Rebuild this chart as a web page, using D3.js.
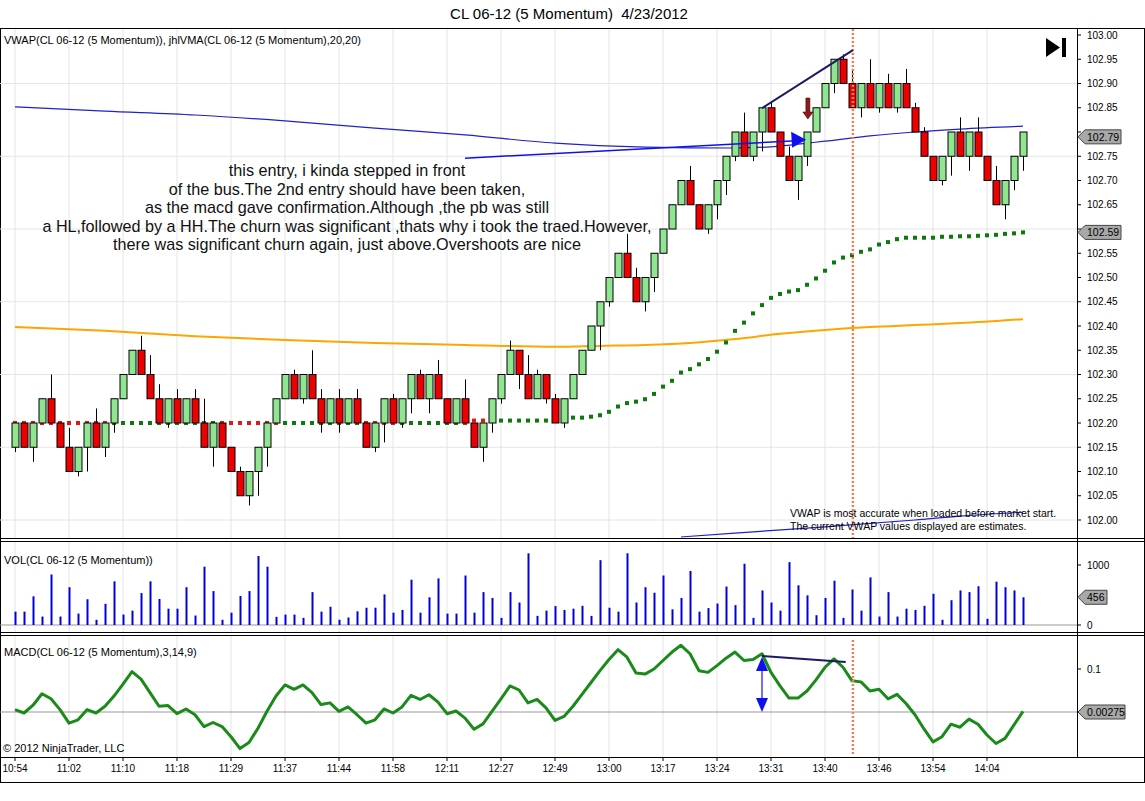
<!DOCTYPE html>
<html><head><meta charset="utf-8">
<script src="https://cdn.jsdelivr.net/npm/d3@7/dist/d3.min.js"></script>
<style>body{margin:0;background:#fff}svg{display:block;font-family:"Liberation Sans",Arial,sans-serif}</style>
</head><body><svg id="c" width="1145" height="801"></svg>
<script>
// ---------- DATA ----------
const timeLabels=["10:54","11:02","11:10","11:18","11:29","11:37","11:44","11:58","12:11","12:27","12:49","13:00","13:17","13:24","13:31","13:40","13:46","13:54","14:04"];
// momentum bar closes (102.xx) and direction (1 up, -1 down)
const closes=[.20,.15,.20,.25,.20,.15,.10,.15,.20,.15,.20,.25,.30,.35,.30,.25,.20,.25,.20,.25,.20,.15,.20,.15,.10,.05,.10,.15,.20,.25,.30,.25,.30,.25,.20,.25,.20,.25,.20,.15,.20,.25,.20,.25,.30,.25,.30,.25,.20,.25,.20,.15,.20,.25,.30,.35,.30,.25,.30,.25,.20,.25,.30,.35,.40,.45,.50,.55,.50,.45,.50,.55,.60,.65,.70,.65,.60,.65,.70,.75,.80,.75,.80,.85,.80,.75,.70,.75,.80,.85,.90,.95,.90,.85,.90,.85,.90,.85,.90,.85,.80,.75,.70,.75,.80,.75,.80,.75,.70,.65,.70,.75,.80];
const dirs=[1,-1,1,1,-1,-1,-1,1,1,-1,1,1,1,1,-1,-1,-1,1,-1,1,-1,-1,1,-1,-1,-1,1,1,1,1,1,-1,1,-1,-1,1,-1,1,-1,-1,1,1,-1,1,1,-1,1,-1,-1,1,-1,-1,1,1,1,1,-1,-1,1,-1,-1,1,1,1,1,1,1,1,-1,-1,1,1,1,1,1,-1,-1,1,1,1,1,-1,1,1,-1,-1,-1,1,1,1,1,1,-1,-1,1,-1,1,-1,1,-1,-1,-1,-1,1,1,-1,1,-1,-1,-1,1,1,1];
// wick extensions in ticks (0.01)
const upWick={4:5,6:4,9:3,14:3,15:4,16:3,18:2,20:2,21:5,25:1,31:1,33:5,34:2,36:2,38:2,42:1,45:1,47:3,50:4,55:2,57:4,58:1,60:1,68:4,69:2,75:3,81:4,84:1,86:2,92:1,93:3,95:5,97:2,99:3,100:1,101:1,105:3,107:3,109:3};
const dnWick={0:1,2:3,7:1,8:5,10:2,11:2,17:1,22:4,26:2,27:5,28:4,32:1,34:2,36:2,40:1,41:4,43:1,44:3,46:3,52:3,53:2,54:1,56:3,59:1,61:1,65:5,66:1,70:2,71:3,77:1,78:3,79:3,80:1,82:1,83:4,87:4,88:2,91:2,94:2,96:1,98:1,103:1,104:4,106:3,110:3,111:2,112:3};
const vmaLeft=[102.200,102.205]; // idx 0-50, 51-61
const vmaRight=[102.211,102.211,102.213,102.216,102.223,102.234,102.241,102.244,102.249,102.260,102.275,102.287,102.304,102.311,102.321,102.332,102.347,102.366,102.390,102.407,102.426,102.443,102.458,102.466,102.471,102.474,102.485,102.498,102.514,102.531,102.541,102.546,102.553,102.558,102.568,102.573,102.579,102.582,102.582,102.582,102.582,102.584,102.584,102.585,102.585,102.586,102.587,102.588,102.590,102.591,102.593];
const vmaRed=[[0,10],[23,29],[39,42],[50,53]];
const orangeLine=[[0,102.398],[10,102.390],[20,102.379],[30,102.371],[40,102.365],[50,102.361],[60,102.357],[65,102.359],[70,102.361],[75,102.365],[80,102.373],[85,102.384],[90,102.392],[95,102.398],[100,102.402],[105,102.406],[112,102.414]];
const vwapLine=[[0,102.852],[10,102.843],[20,102.835],[30,102.823],[40,102.808],[50,102.794],[60,102.777],[70,102.769],[80,102.767],[85,102.771],[88,102.777],[90,102.781],[95,102.792],[100,102.800],[105,102.806],[112,102.812]];
const vwapLow=[[74,101.965],[80,101.973],[90,101.986],[100,102.000],[105,102.008],[112,102.016]];
const volume=[223,223,478,141,842,141,630,190,429,87,353,728,174,239,532,728,434,272,272,630,158,972,565,87,206,483,565,1151,972,136,174,174,119,548,223,304,87,125,228,288,288,510,206,250,755,206,462,777,190,190,825,206,548,451,119,548,375,1195,152,239,315,250,272,320,152,1081,288,223,1195,375,630,538,825,261,451,901,223,282,358,641,331,1021,119,576,375,239,1048,662,494,163,451,738,119,592,239,793,141,548,141,272,250,320,520,87,413,576,548,646,103,722,630,576,462];
const macd=[.0081,.0005,.0181,.0441,.0326,.0081,-.0225,-.0149,.0081,.0005,.0158,.0388,.0656,.0939,.0771,.0464,.0158,.0173,-.0011,.0096,-.0034,-.0302,-.0210,-.0302,-.0532,-.0800,-.0662,-.0340,.0043,.0388,.0640,.0541,.0640,.0464,.0196,.0234,.0043,.0142,-.0034,-.0225,-.0149,.0096,.0005,.0142,.0403,.0311,.0418,.0250,-.0011,.0050,-.0110,-.0363,-.0241,.0043,.0326,.0617,.0525,.0234,.0311,.0119,-.0164,-.0072,.0158,.0426,.0694,.0962,.1215,.1437,.1268,.0908,.0885,.1000,.1192,.1383,.1536,.1345,.0962,.0924,.1077,.1245,.1383,.1192,.1215,.1345,.0924,.0617,.0342,.0342,.0502,.0755,.1039,.1230,.1039,.0732,.0709,.0502,.0541,.0326,.0426,.0219,-.0034,-.0356,-.0647,-.0532,-.0248,-.0317,-.0133,-.0248,-.0493,-.0685,-.0570,-.0264,.0043];
const priceTicks=d3.range(0,21).map(i=>+(102+i*0.05).toFixed(2));
const noteLines=["this entry, i kinda stepped in front","of the bus.The 2nd entry should have been taken,","as the macd gave confirmation.Although ,the pb was still","a HL,followed by a HH.The churn was significant ,thats why i took the traed.However,","there was significant churn again, just above.Overshoots are nice"];

// ---------- SCALES ----------
const svg=d3.select("#c");
const N=closes.length;
const x=d3.scaleLinear().domain([0,N-1]).range([15,1023]);
const y=d3.scaleLinear().domain([102,103]).range([520,35]);
const yv=d3.scaleLinear().domain([0,1000]).range([625,565]);
const ym=d3.scaleLinear().domain([0.00275,0.1]).range([712,669]);
const PR=1077;
svg.append("rect").attr("x",0.5).attr("y",28.5).attr("width",1144).attr("height",754).attr("fill","none").attr("stroke","#000");
[538,541,632,635,757].forEach(b=>svg.append("line").attr("x1",0).attr("x2",1145).attr("y1",b+0.5).attr("y2",b+0.5).attr("stroke","#000"));
svg.append("line").attr("x1",PR+.5).attr("x2",PR+.5).attr("y1",28).attr("y2",757).attr("stroke","#000");
svg.append("text").attr("x",569).attr("y",19).attr("text-anchor","middle").attr("font-size",15).attr("xml:space","preserve").style("white-space","pre").text("CL 06-12 (5 Momentum)  4/23/2012");

// grid
const gx=svg.append("g").attr("stroke","#e4e4e4");
timeLabels.forEach((t,i)=>{const xx=x(i*6);
  [[29,538],[542,632],[636,757]].forEach(([a,b])=>gx.append("line").attr("x1",xx).attr("x2",xx).attr("y1",a).attr("y2",b));
});
d3.range(0,7).forEach(i=>{const p=102+i*0.15;gx.append("line").attr("x1",0).attr("x2",PR).attr("y1",y(p)).attr("y2",y(p));});

svg.append("clipPath").attr("id","pc").append("rect").attr("x",0).attr("y",29).attr("width",PR).attr("height",509);
const pg=svg.append("g").attr("clip-path","url(#pc)");
const lineXY=d3.line().x(d=>x(d[0])).y(d=>y(d[1])).curve(d3.curveMonotoneX);
pg.append("path").attr("d",lineXY(orangeLine)).attr("fill","none").attr("stroke","#FFA500").attr("stroke-width",2);
pg.append("path").attr("d",lineXY(vwapLine)).attr("fill","none").attr("stroke","#2020cc").attr("stroke-width",1.2);
pg.append("path").attr("d",lineXY(vwapLow)).attr("fill","none").attr("stroke","#2020cc").attr("stroke-width",1.2);
const vma=d3.range(N).map(i=>i<=50?vmaLeft[0]:i<=61?vmaLeft[1]:vmaRight[i-62]);
const isRed=i=>vmaRed.some(([a,b])=>i>=a&&i<=b);
pg.selectAll(".vd").data(vma).join("rect").attr("x",(d,i)=>x(i)-2).attr("y",d=>y(d)-2).attr("width",4).attr("height",4)
  .attr("fill",(d,i)=>isRed(i)?"#e01818":"#0a7a0a");
const cg=pg.append("g");
closes.forEach((c,i)=>{
  const cl=102+c, op=cl-0.05*dirs[i];
  const hi=Math.max(cl,op)+(upWick[i]||0)*0.01, lo=Math.min(cl,op)-(dnWick[i]||0)*0.01;
  const xx=Math.round(x(i))+.5;
  cg.append("line").attr("x1",xx).attr("x2",xx).attr("y1",y(hi)).attr("y2",y(lo)).attr("stroke","#000");
  cg.append("rect").attr("x",xx-3.5).attr("y",y(Math.max(cl,op))).attr("width",7).attr("height",y(Math.min(cl,op))-y(Math.max(cl,op)))
    .attr("fill",dirs[i]>0?"#90e690":"#ee0000").attr("stroke","#000").attr("stroke-width",1);
});
const xv=x(93.1);
pg.append("line").attr("x1",xv).attr("x2",xv).attr("y1",29).attr("y2",538).attr("stroke","#f08050").attr("stroke-width",2.5).attr("stroke-dasharray","2,2");
pg.append("line").attr("x1",x(83)).attr("y1",y(102.849)).attr("x2",x(93.1)).attr("y2",y(102.969)).attr("stroke","#1a1a66").attr("stroke-width",2);
pg.append("line").attr("x1",x(50)).attr("y1",y(102.746)).attr("x2",x(86.8)).attr("y2",y(102.782)).attr("stroke","#1010ee").attr("stroke-width",1.5);
{const ax=x(87.9),ay=y(102.784);pg.append("path").attr("d",`M${ax},${ay} l-15,-8 l1,16 z`).attr("fill","#1010ee");}
{const ax=x(88.1);pg.append("path").attr("d",`M${ax-2},${y(102.87)} h4 v14 h3 l-5,7 l-5,-7 h3 z`).attr("fill","#8b1a1a").attr("stroke","#5a0000").attr("stroke-width",.6);}
const nt=svg.append("text").attr("text-anchor","middle").attr("font-size",16.2).attr("fill","#111");
noteLines.forEach((l,i)=>nt.append("tspan").attr("x",347).attr("y",176+i*18.6).text(l));
svg.append("text").attr("x",790).attr("y",517).attr("font-size",10.5).text("VWAP is most accurate when loaded before market start.");
svg.append("text").attr("x",790).attr("y",530).attr("font-size",10.5).text("The current VWAP values displayed are estimates.");
svg.append("text").attr("x",4).attr("y",44).attr("font-size",11).text("VWAP(CL 06-12 (5 Momentum)), jhlVMA(CL 06-12 (5 Momentum),20,20)");
svg.append("path").attr("d","M1046,38 l14,9.5 l-14,9.5 z").attr("fill","#000");
svg.append("rect").attr("x",1062).attr("y",38).attr("width",4).attr("height",19).attr("fill","#000");

// right axis (labels hidden under price tags)
const tagYs=[y(102+closes[N-1]-0.01),y(vma[N-1])];
const ax=svg.append("g").attr("font-size",10).attr("fill","#000");
priceTicks.forEach(p=>{ax.append("line").attr("x1",PR).attr("x2",PR+4).attr("y1",y(p)).attr("y2",y(p)).attr("stroke","#000");
  if(tagYs.some(t=>Math.abs(t-y(p))<12)) return;
  ax.append("text").attr("x",1087).attr("y",y(p)+3.5).text(p.toFixed(2));});
function tag(yy,txt,w){svg.append("path").attr("d",`M${PR+1},${yy} l7,-7 h${w} v14 h-${w} z`).attr("fill","#a8a8a8").attr("stroke","#444");
  svg.append("text").attr("x",PR+10).attr("y",yy+4).attr("font-size",10.5).text(txt);}
tag(tagYs[0],"102.79",36);
tag(tagYs[1],"102.59",36);

svg.append("text").attr("x",4).attr("y",564).attr("font-size",11).text("VOL(CL 06-12 (5 Momentum))");
svg.append("line").attr("x1",0).attr("x2",PR).attr("y1",yv(0)).attr("y2",yv(0)).attr("stroke","#999");
svg.selectAll(".v").data(volume).join("line").attr("x1",(d,i)=>Math.round(x(i))+.5).attr("x2",(d,i)=>Math.round(x(i))+.5)
  .attr("y1",yv(0)).attr("y2",d=>yv(d)).attr("stroke","#0000dd").attr("stroke-width",2);
[0,1000].forEach(v=>{svg.append("line").attr("x1",PR).attr("x2",PR+4).attr("y1",yv(v)).attr("y2",yv(v)).attr("stroke","#000");
  svg.append("text").attr("x",1087).attr("y",yv(v)+3.5).attr("font-size",10).text(v);});
tag(yv(volume[N-1]),String(volume[N-1]-6),22);

svg.append("text").attr("x",4).attr("y",656).attr("font-size",11).text("MACD(CL 06-12 (5 Momentum),3,14,9)");
svg.append("line").attr("x1",0).attr("x2",PR).attr("y1",ym(0.00275)).attr("y2",ym(0.00275)).attr("stroke","#999");
svg.append("path").attr("d",d3.line().x((d,i)=>x(i)).y(d=>ym(d))(macd)).attr("fill","none").attr("stroke","#1a8a1a").attr("stroke-width",3).attr("stroke-linejoin","round");
svg.append("line").attr("x1",xv).attr("x2",xv).attr("y1",640).attr("y2",755).attr("stroke","#f08050").attr("stroke-width",2.5).attr("stroke-dasharray","2,2");
svg.append("line").attr("x1",x(83)).attr("y1",ym(0.1294)).attr("x2",x(92.3)).attr("y2",ym(0.116)).attr("stroke","#1a1a66").attr("stroke-width",2);
{const ax2=x(83),t=ym(0.127),b=ym(0.00275);
 svg.append("line").attr("x1",ax2).attr("x2",ax2).attr("y1",t+8).attr("y2",b-8).attr("stroke","#1010ee").attr("stroke-width",1.2);
 svg.append("path").attr("d",`M${ax2},${t} l-6,14 h12 z M${ax2},${b} l-6,-14 h12 z`).attr("fill","#1010ee");}
svg.append("line").attr("x1",PR).attr("x2",PR+4).attr("y1",ym(0.1)).attr("y2",ym(0.1)).attr("stroke","#000");
svg.append("text").attr("x",1087).attr("y",ym(0.1)+3.5).attr("font-size",10).text("0.1");
tag(ym(0.00275),"0.00275",40);
svg.append("text").attr("x",3).attr("y",752).attr("font-size",11).text("© 2012 NinjaTrader, LLC");

timeLabels.forEach((t,i)=>{const xx=x(i*6);
  svg.append("line").attr("x1",xx).attr("x2",xx).attr("y1",757).attr("y2",761).attr("stroke","#000");
  svg.append("text").attr("x",xx).attr("y",772).attr("text-anchor","middle").attr("font-size",10).text(t);});
</script></body></html>
